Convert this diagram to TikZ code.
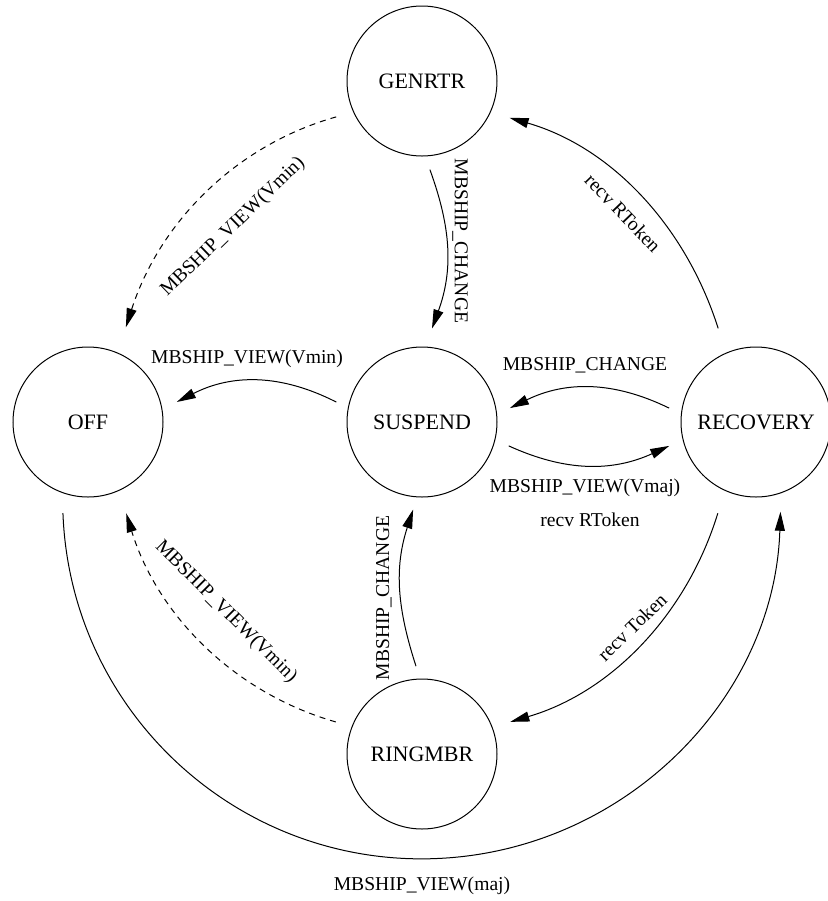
\documentclass[tikz,border=0pt]{standalone}
\usepackage{fontspec}
\setmainfont{Liberation Serif}
\usetikzlibrary{arrows.meta,calc}
\begin{document}
\begin{tikzpicture}[x=0.5pt,y=0.5pt,
  state/.style={draw,circle,line width=0.5pt,minimum size=75pt,inner sep=0pt,
    font=\fontsize{11}{13}\selectfont},
  trans/.style={line width=0.5pt,-{Triangle[length=9.5pt,width=5pt]}},
  weak/.style={trans,dash pattern=on 3pt off 2.5pt},
  lbl/.style={font=\fontsize{9.8}{12}\selectfont,inner sep=0pt}]
\useasboundingbox (0,0) rectangle (827,-901);

% states
\node[state] (gen)  at (422,-81)  {GENRTR};
\node[state] (off)  at (88,-422)  {OFF};
\node[state] (sus)  at (422,-422) {SUSPEND};
\node[state] (rec)  at (756,-422) {RECOVERY};
\node[state] (ring) at (422,-754) {RINGMBR};

% outer quarter arcs
\draw[weak]  ($(gen)+(202.7:93)$)  to[out=195.7,in=72.2,looseness=0.92]  ($(off)+(68.2:102)$);
\draw[trans] ($(rec)+(112:101)$)   to[out=107.6,in=343.9,looseness=0.92] ($(gen)+(337.2:95)$);
\draw[trans] ($(rec)+(247.3:99)$)  to[out=252.9,in=16.3,looseness=0.92]  ($(ring)+(20:94)$);
\draw[weak]  ($(ring)+(159.6:92)$) to[out=164,in=287.1,looseness=0.92]   ($(off)+(292.7:99)$);

% inner transitions
\draw[trans] ($(gen)+(-84.9:89)$)  to[out=-70,in=70]  ($(sus)+(83.9:94)$);
\draw[trans] ($(ring)+(93.9:88)$)  to[out=108,in=252] ($(sus)+(264.2:88)$);
\draw[trans] ($(sus)+(166.9:88)$)  to[out=153,in=27]  ($(off)+(12.7:91)$);
\draw[trans] ($(rec)+(170.9:88)$)  to[out=154,in=26]  ($(sus)+(9:89)$);
\draw[trans] ($(sus)+(-15.4:90)$)  to[out=-24.5,in=204.5] ($(rec)+(195.4:90)$);

% long arc below everything
\draw[trans] ($(off)+(254.6:94.4)$) arc[start angle=182.1,end angle=358.1,radius=359];

% labels
\node[lbl,rotate=44]  (l1)  at (233,-227) {MBSHIP\_VIEW(Vmin)};
\node[lbl,rotate=-90] (l2)  at (460,-241) {MBSHIP\_CHANGE};
\node[lbl]            (l3)  at (247,-359) {MBSHIP\_VIEW(Vmin)};
\node[lbl]            (l4)  at (585,-365) {MBSHIP\_CHANGE};
\node[lbl]            (l5)  at (585,-488) {MBSHIP\_VIEW(Vmaj)};
\node[lbl]            (l5b) at (590,-520) {recv RToken};
\node[lbl,rotate=-46] (l6)  at (623,-213) {recv RToken};
\node[lbl,rotate=90]  (l7)  at (384,-598) {MBSHIP\_CHANGE};
\node[lbl,rotate=-45] (l8)  at (226,-612) {MBSHIP\_VIEW(Vmin)};
\node[lbl,rotate=44]  (l9)  at (632,-627) {recv Token};
\node[lbl]            (l10) at (422,-886) {MBSHIP\_VIEW(maj)};
\end{tikzpicture}
\end{document}
